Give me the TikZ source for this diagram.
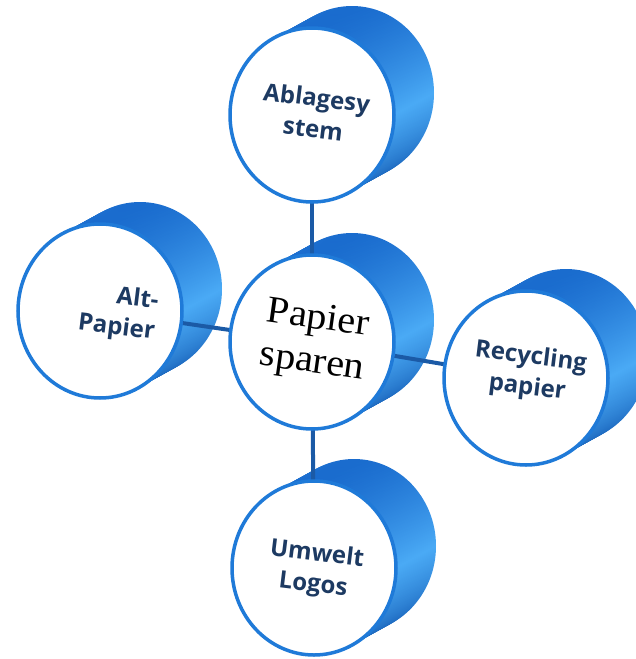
\documentclass[tikz,border=0pt]{standalone}
\usepackage{fontspec}
\setsansfont{Open Sans}
\setmainfont{Liberation Serif}
\usetikzlibrary{shapes.geometric, calc}

\definecolor{rim}{HTML}{1F7AD8}
\definecolor{sidedark}{HTML}{1A6CCE}
\definecolor{sidelight}{HTML}{4AAAF5}
\definecolor{link}{HTML}{1B5AA6}
\definecolor{ink}{HTML}{1D3A62}

\pgfdeclarelayer{back}
\pgfdeclarelayer{mid}
\pgfsetlayers{back,mid,main}

\tikzset{
  face/.style={ellipse, draw=rim, line width=3.5pt, fill=white,
    minimum width=164pt, minimum height=174pt, inner sep=0pt},
  word/.style={rotate=-7, align=center, text=ink,
    font=\sffamily\bfseries\fontsize{24}{31}\selectfont},
  link/.style={draw=link, line width=4pt},
}

\begin{document}
\begin{tikzpicture}[x=1pt, y=-1pt]
  \useasboundingbox (0,0) rectangle (636,659);

  % front faces
  \node[face] (abl) at (312,115) {};
  \node[face] (pap) at (312,342) {};
  \node[face] (alt) at (100,311) {};
  \node[face] (rec) at (526,378) {};
  \node[face] (umw) at (314,568) {};

  % texts
  \node[word] (abl-t) at (315,113) {Ablagesy\\stem};
  \node[word, align=right, anchor=east] (alt-t) at (160,318) {Alt-\\Papier};
  \node[word] (rec-t) at (529,373) {Recycling\\papier};
  \node[word] (umw-t) at (315,570) {Umwelt\\Logos};
  \node[rotate=-8, xscale=1.06, align=center, text=black,
    font=\rmfamily\fontsize{38}{44}\selectfont] (pap-t) at (315,342) {Papier\\sparen};

  % drum sides
  \begin{pgfonlayer}{back}
    \foreach \c in {abl,pap,alt,rec,umw}{
      \foreach \k in {20,19,...,0}{
        \shade[top color=sidedark, bottom color=sidedark!90!black, middle color=sidelight]
          ($(\c)+(2*\k,-1.1*\k)$) ellipse [x radius=82pt, y radius=87pt];
      }
    }
  \end{pgfonlayer}

  % connectors
  \begin{pgfonlayer}{mid}
    \draw[link] (pap.center) -- (abl.center);
    \draw[link] (pap.center) -- (alt.center);
    \draw[link] (pap.center) -- (rec.center);
    \draw[link] (pap.center) -- (umw.center);
  \end{pgfonlayer}
\end{tikzpicture}
\end{document}
